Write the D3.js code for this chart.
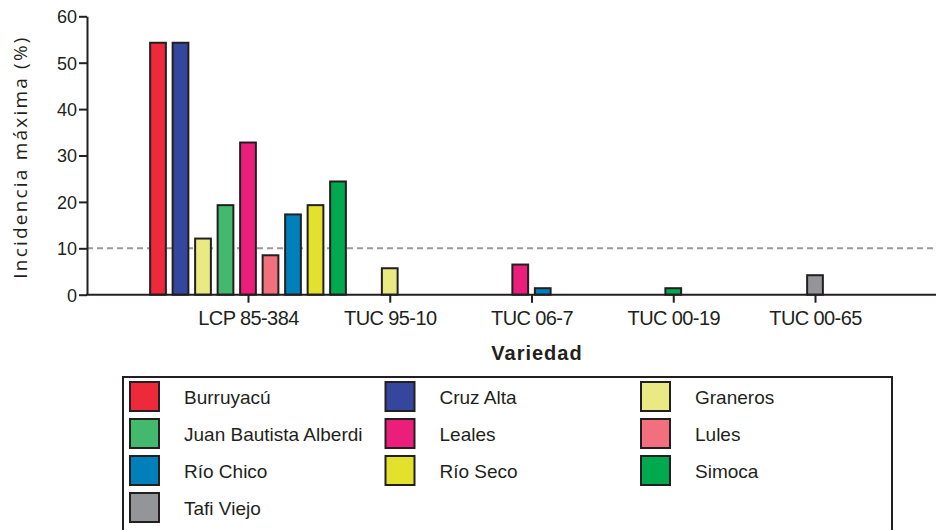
<!DOCTYPE html>
<html>
<head>
<meta charset="utf-8">
<script src="https://cdn.jsdelivr.net/npm/d3@7"></script>
<style>
  body { margin: 0; background: #fff; }
  svg { display: block; }
</style>
</head>
<body>
<script>
'use strict'
// varieties on the x axis
var varieties = ["LCP 85-384", "TUC 95-10", "TUC 06-7", "TUC 00-19", "TUC 00-65"];

// regions (series) and their colours
var regions = ["Burruyacú", "Cruz Alta", "Graneros", "Juan Bautista Alberdi", "Leales",
               "Lules", "Río Chico", "Río Seco", "Simoca", "Tafi Viejo"];
var colors = ["#ee2a3a", "#35479c", "#e9ea84", "#43b96d", "#ec1e7b",
              "#f2707d", "#0080bb", "#e2e22e", "#00a84e", "#939598"];

// max incidence (%) per region, one value per variety
var burruyaco   = [54.3, 0,   0,   0,   0];
var cruzAlta    = [54.3, 0,   0,   0,   0];
var graneros    = [12.1, 5.7, 0,   0,   0];
var alberdi     = [19.3, 0,   0,   0,   0];
var leales      = [32.8, 0,   6.5, 0,   0];
var lules       = [8.5,  0,   0,   0,   0];
var rioChico    = [17.3, 0,   1.4, 0,   0];
var rioSeco     = [19.3, 0,   0,   0,   0];
var simoca      = [24.4, 0,   0,   1.4, 0];
var tafiViejo   = [0,    0,   0,   0,   4.2];

var yTicks = [0, 10, 20, 30, 40, 50, 60];
var threshold = 10;

var seriesValues = [burruyaco, cruzAlta, graneros, alberdi, leales,
                    lules, rioChico, rioSeco, simoca, tafiViejo];

var width = 936, height = 530;
var ink = "#231f20";

var svg = d3.select("body").append("svg")
            .attr("width", width)
            .attr("height", height);

var y = d3.scaleLinear().domain([0, 60]).range([294.7, 16.3]);
var x = d3.scalePoint().domain(varieties).range([248, 815]);
var pitch = 22.5;

// dashed reference line
svg.append("line")
   .attr("x1", 87).attr("x2", width)
   .attr("y1", y(threshold)).attr("y2", y(threshold))
   .attr("stroke", "#9a9a9a")
   .attr("stroke-width", 2)
   .attr("stroke-dasharray", "6,4");

// bars: only non-zero ones, centred on the variety tick
varieties.forEach(function(v, vi){
  var present = regions.map(function(r, ri){
    return {region: r, color: colors[ri], value: seriesValues[ri][vi]};
  }).filter(function(d){ return d.value > 0; });
  var cx = x(v);
  var inner = d3.scaleBand()
                .domain(present.map(function(d){ return d.region; }))
                .range([cx - present.length * pitch / 2, cx + present.length * pitch / 2])
                .paddingInner(0.3)
                .paddingOuter(0.15);
  svg.append("g").selectAll("rect")
     .data(present)
     .enter().append("rect")
     .attr("x", function(d){ return inner(d.region); })
     .attr("width", inner.bandwidth())
     .attr("y", function(d){ return y(d.value); })
     .attr("height", function(d){ return y(0) - y(d.value); })
     .attr("fill", function(d){ return d.color; })
     .attr("stroke", ink)
     .attr("stroke-width", 2);
});

// y axis
var yAxis = svg.append("g")
   .attr("transform", "translate(87,0)")
   .call(d3.axisLeft(y).tickValues(yTicks).tickSize(8).tickPadding(2).tickSizeOuter(0));
yAxis.select(".domain").attr("stroke", ink).attr("stroke-width", 2);
yAxis.selectAll(".tick line").attr("stroke", ink).attr("stroke-width", 2);
yAxis.selectAll(".tick text")
     .attr("fill", ink)
     .style("font-family", "'Liberation Sans', Arial, sans-serif")
     .style("font-size", "18px")
     .attr("dy", "0.35em");

// x axis
svg.append("line")
   .attr("x1", 86).attr("x2", width)
   .attr("y1", y(0)).attr("y2", y(0))
   .attr("stroke", ink).attr("stroke-width", 2);
var xAxis = svg.append("g")
   .attr("transform", "translate(0," + y(0) + ")")
   .call(d3.axisBottom(x).tickSize(8).tickPadding(8));
xAxis.select(".domain").remove();
xAxis.selectAll(".tick line").attr("stroke", ink).attr("stroke-width", 2);
xAxis.selectAll(".tick text")
     .attr("fill", ink)
     .style("font-family", "'Liberation Sans', Arial, sans-serif")
     .style("font-size", "20px")
     .style("letter-spacing", "-0.6px");

// axis titles
svg.append("text")
   .attr("transform", "translate(27,157) rotate(-90)")
   .attr("text-anchor", "middle")
   .attr("fill", ink)
   .style("font-family", "'Open Sans', sans-serif")
   .style("font-size", "19px")
   .style("letter-spacing", "2.2px")
   .text("Incidencia máxima (%)");

svg.append("text")
   .attr("x", 537).attr("y", 360)
   .attr("text-anchor", "middle")
   .attr("fill", ink)
   .style("font-family", "'Liberation Sans', Arial, sans-serif")
   .style("font-weight", "bold")
   .style("font-size", "20px")
   .style("letter-spacing", "1px")
   .text("Variedad");

// legend
svg.append("rect")
   .attr("x", 123).attr("y", 377)
   .attr("width", 769).attr("height", 170)
   .attr("fill", "none")
   .attr("stroke", ink).attr("stroke-width", 2);

var legend = svg.append("g").selectAll("g")
   .data(regions)
   .enter().append("g")
   .attr("transform", function(d, i){
     return "translate(" + (130 + (i % 3) * 255.5) + "," + (382 + Math.floor(i / 3) * 37) + ")";
   });
legend.append("rect")
   .attr("width", 29).attr("height", 29)
   .attr("fill", function(d, i){ return colors[i]; })
   .attr("stroke", ink).attr("stroke-width", 2);
legend.append("text")
   .attr("x", 54).attr("y", 22)
   .attr("fill", ink)
   .style("font-family", "'Liberation Sans', Arial, sans-serif")
   .style("font-size", "19px")
   .text(function(d){ return d; });
</script>
</body>
</html>
